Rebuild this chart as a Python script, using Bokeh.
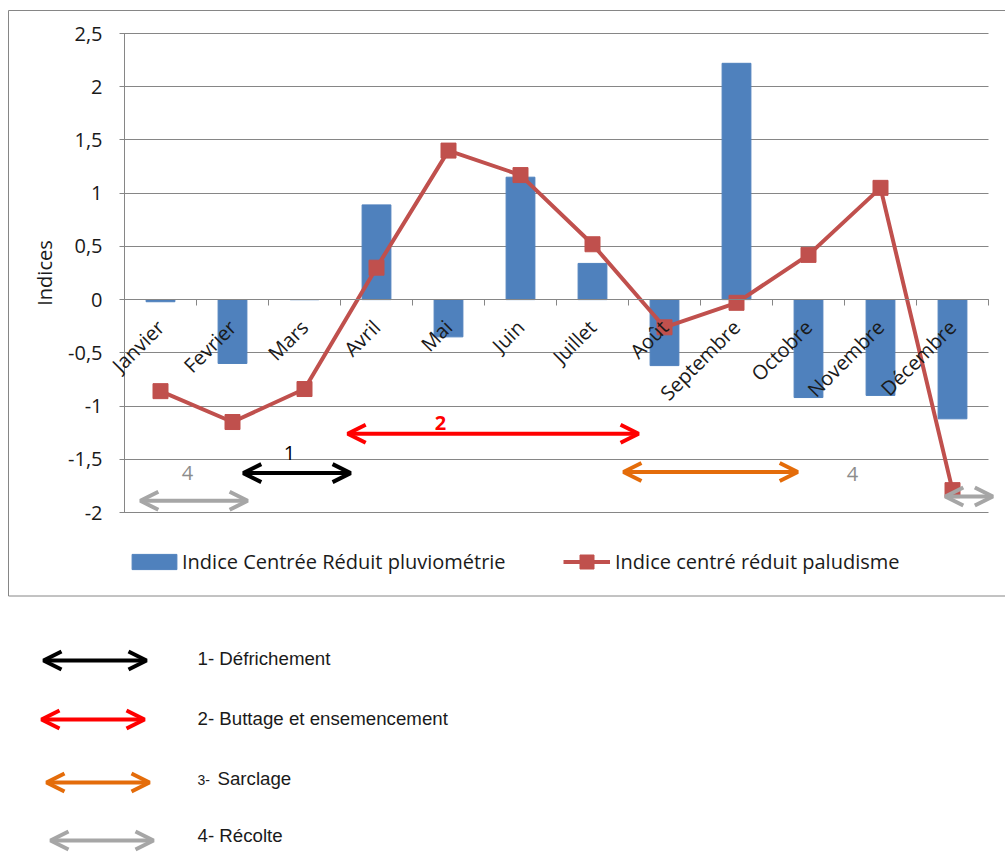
import math
from bokeh.plotting import figure
from bokeh.models import (Range1d, LinearAxis, FixedTicker, CustomJSTickFormatter, Legend,
                          LegendItem, Arrow, OpenHead, Label, BoxAnnotation, ColumnDataSource)
from bokeh.embed import file_html
from bokeh.resources import INLINE
from bokeh.core.properties import value

# ---------------- data ----------------
MONTHS = ["Janvier", "Fevrier", "Mars", "Avril", "Mai", "Juin", "Juillet", "Août",
          "Septembre", "Octobre", "Novembre", "Décembre"]
PLUVIO = [-0.02, -0.60, 0.00, 0.89, -0.35, 1.15, 0.34, -0.62, 2.22, -0.92, -0.90, -1.12]
PALU = [-0.86, -1.15, -0.84, 0.30, 1.40, 1.17, 0.52, -0.26, -0.03, 0.42, 1.05, -1.79]
SERIES = ["Indice Centrée Réduit pluviométrie", "Indice centré réduit paludisme"]
YTICKS = [-2, -1.5, -1, -0.5, 0, 0.5, 1, 1.5, 2, 2.5]
Y_TITLE = "Indices"

# agricultural phases drawn as double arrows (month units)
PHASE_START = [0.22, 1.65, 3.10, 6.93, 11.40]
PHASE_END = [1.71, 3.14, 7.14, 9.35, 12.06]
PHASE_LEVEL = [-1.89, -1.63, -1.26, -1.62, -1.85]
PHASE_COLOR = ["#A6A6A6", "#000000", "#FF0000", "#E46C0A", "#A6A6A6"]
PHASE_NUM = ["4", "1", "2", "4"]
PHASE_NUM_X = [0.875, 2.29, 4.39, 10.11]
PHASE_NUM_Y = [-1.63, -1.44, -1.16, -1.64]
PHASE_NUM_COLOR = ["#8C8C8C", "#000000", "#FF0000", "#8C8C8C"]
PHASE_NUM_STYLE = ["normal", "normal", "bold", "normal"]
KEY_COLOR = ["#000000", "#FF0000", "#E46C0A", "#A6A6A6"]
KEY_TEXT = ["1- Défrichement", "2- Buttage et ensemencement", "3- Sarclage", "4- Récolte"]

# ---------------- geometry ----------------
W, H = 1005, 853
FL, FR, FT, FB = 124, 988, 33, 512      # plot area of the chart, in pixels
N = len(MONTHS)
centers = [i + 0.5 for i in range(N)]
Y0, Y1 = YTICKS[0], YTICKS[-1]


def X(px):
    return (px - FL) / (FR - FL) * N


def Y(py):
    return Y1 - (py - FT) / (FB - FT) * (Y1 - Y0)


GRID = "#868686"
FONT = "Open Sans"
TXT = "#1a1a1a"

p = figure(width=W, height=H, x_range=Range1d(X(0), X(W)), y_range=Range1d(Y(H), Y(0)),
           output_backend="svg", toolbar_location=None, x_axis_location=None,
           y_axis_location=None, min_border=0)
p.outline_line_color = None
p.background_fill_color = "white"
p.border_fill_color = "white"
for g in p.grid:
    g.visible = False

# value axis: ticks, gridlines (long inner ticks) and labels, crossing at x = 0
yax = LinearAxis(fixed_location=0, bounds=(Y0, Y1), ticker=FixedTicker(ticks=YTICKS),
                 formatter=CustomJSTickFormatter(code="return tick.toString().replace('.', ',')"),
                 axis_line_color=GRID, major_tick_line_color=GRID,
                 major_tick_out=5, major_tick_in=FR - FL, minor_tick_out=0, minor_tick_in=0,
                 major_label_standoff=17, major_label_text_font=FONT,
                 major_label_text_font_size="20px", major_label_text_color=TXT,
                 axis_label=Y_TITLE, axis_label_text_font=FONT, axis_label_text_font_size="20px",
                 axis_label_text_font_style="normal", axis_label_text_color=TXT,
                 axis_label_standoff=7, level="underlay")
p.add_layout(yax, "left")

# category axis crossing at y = 0: boundary ticks + rotated month labels
ax_ticks = LinearAxis(ticker=FixedTicker(ticks=list(range(N + 1))), fixed_location=0,
                      bounds=(0, N), formatter=CustomJSTickFormatter(code="return ''"),
                      axis_line_color=GRID, major_tick_line_color=GRID,
                      major_tick_out=6, major_tick_in=0, minor_tick_out=0, minor_tick_in=0)
p.add_layout(ax_ticks, "below")
ax_lab = LinearAxis(ticker=FixedTicker(ticks=centers), fixed_location=0, bounds=(0, N),
                    formatter=CustomJSTickFormatter(args=dict(months=MONTHS),
                                                    code="return months[Math.floor(tick)]"),
                    axis_line_color=None, major_tick_line_color=None,
                    major_tick_out=0, major_tick_in=0, minor_tick_out=0, minor_tick_in=0,
                    major_label_orientation=math.pi / 4, major_label_standoff=24,
                    major_label_text_font=FONT, major_label_text_font_size="20px",
                    major_label_text_color=TXT)
p.add_layout(ax_lab, "below")

src = ColumnDataSource(dict(x=centers, pluvio=PLUVIO, palu=PALU))
bars = p.vbar(x="x", top="pluvio", bottom=0, width=0.4, source=src,
              fill_color="#4F81BD", line_color="#4F81BD")
line = p.line(x="x", y="palu", source=src, line_color="#C0504D", line_width=4)
marks = p.scatter(x="x", y="palu", source=src, marker="square", size=15,
                  fill_color="#C0504D", line_color="#C0504D")

# phase arrows in chart
for xs, xe, yl, c in zip(PHASE_START, PHASE_END, PHASE_LEVEL, PHASE_COLOR):
    p.add_layout(Arrow(start=OpenHead(size=18, line_width=4, line_color=c),
                       end=OpenHead(size=18, line_width=4, line_color=c),
                       x_start=xs, y_start=yl, x_end=xe, y_end=yl,
                       line_color=c, line_width=4))
nsrc = ColumnDataSource(dict(x=PHASE_NUM_X, y=PHASE_NUM_Y, t=PHASE_NUM, c=PHASE_NUM_COLOR,
                             s=PHASE_NUM_STYLE))
p.text(x="x", y="y", text="t", text_color="c", text_font_style="s", source=nsrc,
       text_font=value(FONT), text_font_size="20px", text_align="center",
       text_baseline="middle")

# legends (below the plot area), positioned from the canvas bottom-left corner
LEG_H = 35
leg_vy = H - 561 - LEG_H / 2
leg1 = Legend(items=[LegendItem(label=SERIES[0], renderers=[bars])],
              location=(126, leg_vy), glyph_width=56, glyph_height=19, label_height=LEG_H,
              label_standoff=0, padding=0, spacing=0, margin=0,
              border_line_color=None, background_fill_alpha=0,
              label_text_font=FONT, label_text_font_size="20px", label_text_color=TXT)
leg2 = Legend(items=[LegendItem(label=SERIES[1], renderers=[line, marks])],
              location=(563, leg_vy), glyph_width=47, glyph_height=LEG_H, label_height=LEG_H,
              label_standoff=5, padding=0, spacing=0, margin=0,
              border_line_color=None, background_fill_alpha=0,
              label_text_font=FONT, label_text_font_size="20px", label_text_color=TXT)
p.add_layout(leg1)
p.add_layout(leg2)

# chart area border
p.add_layout(BoxAnnotation(left=X(8), right=X(W + 10), top=Y(10), bottom=Y(595.5),
                           fill_alpha=0, fill_color=None, line_color=GRID, line_width=1,
                           line_alpha=1))

# key of the phases, under the chart
KEY_ARROW_X0 = [43, 41, 46, 50]
KEY_ARROW_X1 = [146, 144, 149, 153]
KEY_ROW = [660, 719, 782, 840]
KEY_TEXT_ROW = [658, 718, 778, 835]
for x0, x1, r, c in zip(KEY_ARROW_X0, KEY_ARROW_X1, KEY_ROW, KEY_COLOR):
    p.add_layout(Arrow(start=OpenHead(size=18, line_width=4, line_color=c),
                       end=OpenHead(size=18, line_width=4, line_color=c),
                       x_start=X(x0), y_start=Y(r), x_end=X(x1), y_end=Y(r),
                       line_color=c, line_width=4))
for t, r in zip(KEY_TEXT, KEY_TEXT_ROW):
    if t.startswith("3-"):
        p.add_layout(Label(x=X(197), y=Y(r + 1), text=t[:2], text_font="Liberation Sans",
                           text_font_size="14px", text_color=TXT,
                           text_baseline="middle", text_align="left"))
        p.add_layout(Label(x=X(217), y=Y(r), text=t[3:], text_font="Liberation Sans",
                           text_font_size="18.7px", text_color=TXT,
                           text_baseline="middle", text_align="left"))
    else:
        p.add_layout(Label(x=X(197), y=Y(r), text=t, text_font="Liberation Sans",
                           text_font_size="18.7px", text_color=TXT,
                           text_baseline="middle", text_align="left"))

open("out.html", "w").write(file_html(p, INLINE))
